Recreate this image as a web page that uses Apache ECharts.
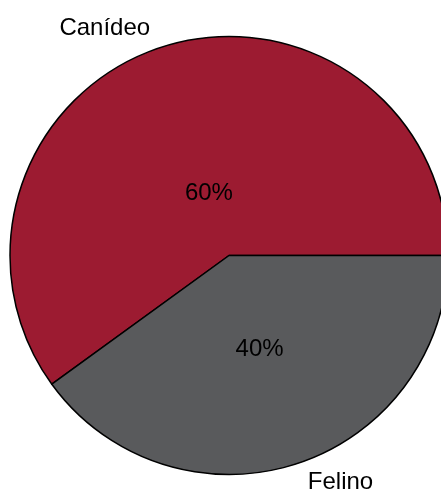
<!DOCTYPE html>
<html>
<head>
<meta charset="utf-8">
<script src="https://cdn.jsdelivr.net/npm/echarts@6/dist/echarts.min.js"></script>
<style>
html,body{margin:0;padding:0;background:#fff;}
#chart{width:441px;height:494px;}
</style>
</head>
<body>
<div id="chart"></div>
<script>
const categories = ['Canídeo', 'Felino'];
const values = [60, 40];
const colors = ['#9C1B31', '#595A5C'];

const FONT = 'Liberation Sans, Arial, sans-serif';
const chart = echarts.init(document.getElementById('chart'), null, {renderer: 'canvas'});

function pctLabels(showIdx) {
  return categories.map((c, i) => ({
    name: c, value: values[i],
    label: {show: i === showIdx}
  }));
}

const labelSeries = (radius, idx) => ({
  type: 'pie', center: [229, 255.5], radius: radius,
  startAngle: 0, clockwise: false, silent: true, z: 5,
  avoidLabelOverlap: false,
  itemStyle: {color: 'transparent', borderWidth: 0},
  label: {
    position: 'inner', color: '#000', fontFamily: FONT, fontSize: 24,
    formatter: p => p.value + '%'
  },
  labelLine: {show: false},
  data: pctLabels(idx)
});

chart.setOption({
  animation: false,
  backgroundColor: '#fff',
  series: [
    {
      type: 'pie', center: [229, 255.5], radius: 219,
      startAngle: 0, clockwise: false, silent: true,
      avoidLabelOverlap: false,
      itemStyle: {borderColor: '#000', borderWidth: 1.5},
      label: {
        show: true, position: 'outside', color: '#000',
        fontFamily: FONT, fontSize: 24, formatter: '{b}'
      },
      labelLine: {show: false, length: 20, length2: 0},
      data: categories.map((c, i) => ({name: c, value: values[i], itemStyle: {color: colors[i]}}))
    },
    labelSeries(124, 0),
    labelSeries(192, 1)
  ]
});
</script>
</body>
</html>
